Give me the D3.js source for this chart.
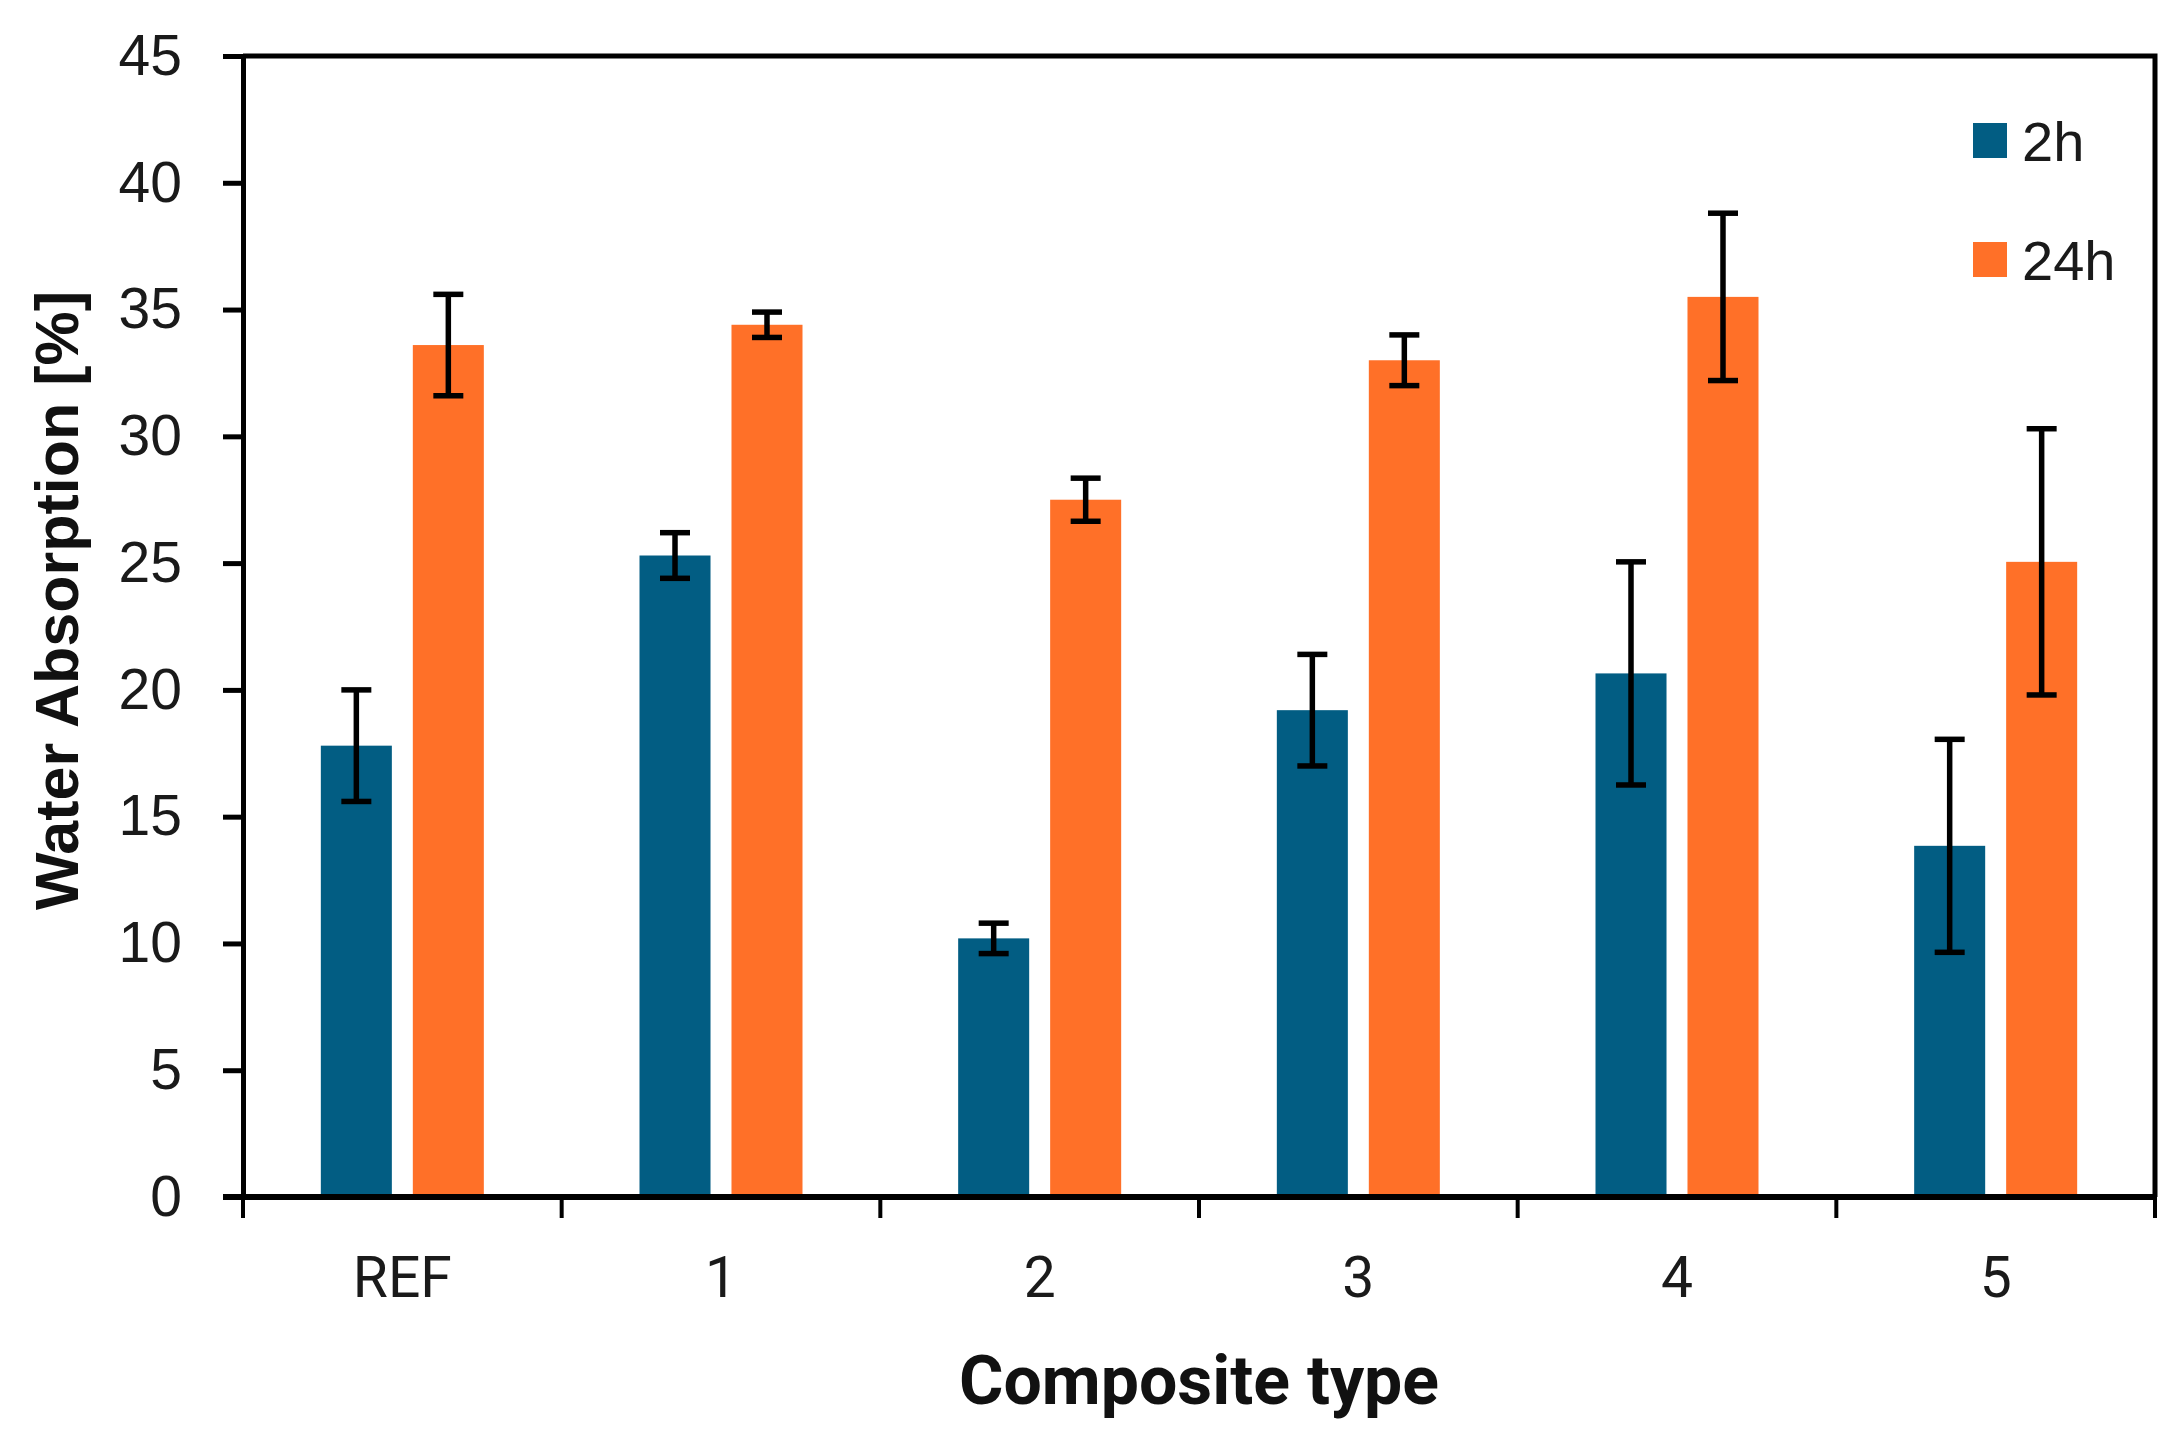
<!DOCTYPE html>
<html>
<head>
<meta charset="utf-8">
<script src="https://cdn.jsdelivr.net/npm/d3@7"></script>
<style>
  body { margin: 0; background: #fff; }
  svg { display: block; }
</style>
</head>
<body>
<div id="chart"></div>
<script>
// data
const categories = ["REF", "1", "2", "3", "4", "5"];
const series = ["2h", "24h"];
const values2h = [17.8, 25.3, 10.2, 19.2, 20.65, 13.85];
const err2h = [2.2, 0.9, 0.6, 2.2, 4.4, 4.2];
const values24h = [33.6, 34.4, 27.5, 33.0, 35.5, 25.05];
const err24h = [2.0, 0.5, 0.85, 1.0, 3.3, 5.25];
const yTicks = [0, 5, 10, 15, 20, 25, 30, 35, 40, 45];

const colors = { "2h": "#025d83", "24h": "#ff7028" };

const width = 2178, height = 1445;
const margin = { top: 56, right: 23, bottom: 248, left: 243 };

const svg = d3.select("#chart")
    .append("svg")
    .attr("width", width)
    .attr("height", height);

const x = d3.scaleBand()
    .domain(categories)
    .range([margin.left, width - margin.right])
    .padding(0);

const x1 = d3.scaleBand()
    .domain(series)
    .range([-81.5, 81.5])
    .paddingInner(0.228);

const y = d3.scaleLinear()
    .domain([0, 45])
    .range([height - margin.bottom, margin.top]);

const rows = categories.map((c, i) => ({
    cat: c,
    items: [
        { key: "2h", v: values2h[i], e: err2h[i] },
        { key: "24h", v: values24h[i], e: err24h[i] }
    ]
}));

// bars
const groups = svg.append("g")
    .selectAll("g")
    .data(rows)
    .join("g")
    .attr("transform", d => `translate(${x(d.cat) + x.bandwidth() / 2},0)`);

groups.selectAll("rect")
    .data(d => d.items)
    .join("rect")
    .attr("x", d => x1(d.key))
    .attr("width", x1.bandwidth())
    .attr("y", d => y(d.v))
    .attr("height", d => y(0) - y(d.v))
    .attr("fill", d => colors[d.key]);

// error bars
const capW = 15;
const eb = groups.selectAll("g.err")
    .data(d => d.items)
    .join("g")
    .attr("class", "err")
    .attr("stroke", "#000")
    .attr("stroke-width", 5.5);

eb.append("line")
    .attr("x1", d => x1(d.key) + x1.bandwidth() / 2)
    .attr("x2", d => x1(d.key) + x1.bandwidth() / 2)
    .attr("y1", d => y(d.v + d.e))
    .attr("y2", d => y(d.v - d.e));
eb.append("line")
    .attr("x1", d => x1(d.key) + x1.bandwidth() / 2 - capW)
    .attr("x2", d => x1(d.key) + x1.bandwidth() / 2 + capW)
    .attr("y1", d => y(d.v + d.e))
    .attr("y2", d => y(d.v + d.e));
eb.append("line")
    .attr("x1", d => x1(d.key) + x1.bandwidth() / 2 - capW)
    .attr("x2", d => x1(d.key) + x1.bandwidth() / 2 + capW)
    .attr("y1", d => y(d.v - d.e))
    .attr("y2", d => y(d.v - d.e));

// frame: top and right border
const [x0, xEnd] = x.range();
svg.append("path")
    .attr("d", `M${x0},${y(45)}H${xEnd}V${y(0)}`)
    .attr("fill", "none")
    .attr("stroke", "#000")
    .attr("stroke-width", 5);

// y axis
const yAxis = svg.append("g")
    .attr("transform", `translate(${x0},0)`)
    .call(d3.axisLeft(y).tickValues(yTicks).tickSize(20).tickPadding(41));
yAxis.select(".domain").attr("stroke-width", 5);
yAxis.selectAll(".tick line").attr("stroke-width", 5);
yAxis.selectAll(".tick text")
    .attr("font-family", "Liberation Sans, Arial, sans-serif")
    .attr("font-size", 57)
    .attr("fill", "#1a1a1a");

// x axis: labels at centres, ticks at band boundaries
const xAxis = svg.append("g")
    .attr("transform", `translate(0,${y(0)})`)
    .call(d3.axisBottom(x).tickSize(0).tickPadding(60));
xAxis.select(".domain").remove();
xAxis.selectAll(".tick text")
    .attr("font-family", "Roboto, sans-serif")
    .attr("font-size", 57)
    .attr("fill", "#1a1a1a");

svg.append("line")
    .attr("x1", x0 - 20).attr("x2", xEnd)
    .attr("y1", y(0)).attr("y2", y(0))
    .attr("stroke", "#000").attr("stroke-width", 6);

svg.append("g")
    .selectAll("line")
    .data(categories.map(c => x(c)).concat([xEnd]))
    .join("line")
    .attr("x1", d => d).attr("x2", d => d)
    .attr("y1", y(0)).attr("y2", y(0) + 21)
    .attr("stroke", "#000")
    .attr("stroke-width", 4);

// axis titles
svg.append("text")
    .attr("x", (x0 + xEnd) / 2)
    .attr("y", 1404)
    .attr("text-anchor", "middle")
    .attr("font-family", "Roboto, sans-serif")
    .attr("font-weight", "bold")
    .attr("font-size", 68)
    .attr("fill", "#111")
    .text("Composite type");

svg.append("text")
    .attr("transform", `translate(78,${(y(0) + y(45)) / 2 - 26}) rotate(-90)`)
    .attr("text-anchor", "middle")
    .attr("font-family", "Liberation Sans, Arial, sans-serif")
    .attr("font-weight", "bold")
    .attr("font-size", 61)
    .attr("fill", "#111")
    .text("Water Absorption [%]");

// legend
const legend = svg.append("g")
    .attr("transform", "translate(1973,123)");
const li = legend.selectAll("g")
    .data(series)
    .join("g")
    .attr("transform", (d, i) => `translate(0,${i * 119})`);
li.append("rect")
    .attr("width", 34).attr("height", 35)
    .attr("fill", d => colors[d]);
li.append("text")
    .attr("x", 49)
    .attr("y", 38)
    .attr("font-family", "Liberation Sans, Arial, sans-serif")
    .attr("font-size", 56)
    .attr("fill", "#1a1a1a")
    .text(d => d);
</script>
</body>
</html>
